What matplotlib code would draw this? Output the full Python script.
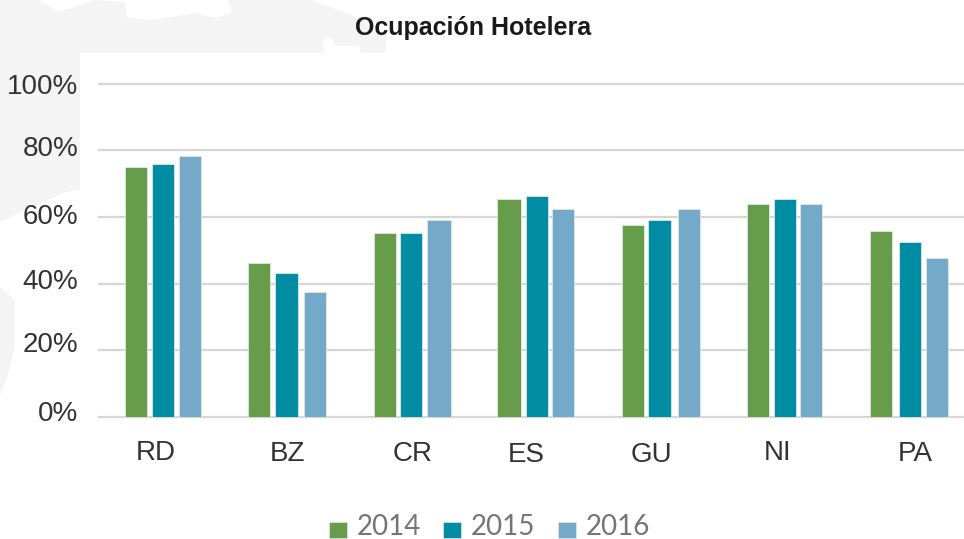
import matplotlib
matplotlib.use("Agg")
import matplotlib.pyplot as plt
from matplotlib.patches import Polygon, Rectangle

W, H = 964, 539

paises = ["RD", "BZ", "CR", "ES", "GU", "NI", "PA"]
anios = ["2014", "2015", "2016"]
v2014 = [75.0, 46.2, 55.2, 65.3, 57.6, 63.9, 55.8]
v2015 = [75.9, 43.2, 55.2, 66.3, 59.1, 65.3, 52.5]
v2016 = [78.3, 37.5, 59.1, 62.3, 62.3, 63.9, 47.7]
yticks = [0, 20, 40, 60, 80, 100]

colores = ["#669c4a", "#008ca3", "#74a9ca"]
gris_mapa = "#f4f4f4"

# posiciones en pixeles de la imagen original (el eje x va en pixeles)
centros_2014 = [136, 259, 384.5, 508.5, 633, 758, 881]
centros_2015 = [163, 286.5, 411, 537, 659.5, 784.5, 910]
centros_2016 = [189.5, 315, 439, 563, 688.5, 811, 937]
anchos_2014 = [22, 22, 22, 24, 22, 22, 22]
anchos_2015 = [22, 23, 22, 22, 23, 22, 22]
anchos_2016 = [22, 22, 24, 22, 22, 22, 22]
centros_label = [156, 288, 413, 526, 651, 778, 915]
y_label = [453, 454, 454, 455, 455, 453, 454]

plt.rcParams["font.family"] = ["Liberation Sans", "DejaVu Sans"]

fig = plt.figure(figsize=(W / 100, H / 100), dpi=100)

# fondo: mapa gris claro
fondo = fig.add_axes([0, 0, 1, 1], zorder=0)
fondo.set_xlim(0, W)
fondo.set_ylim(H, 0)
fondo.axis("off")
mapa = [(0, 0), (40, 0), (58, 12), (95, 0), (125, 2), (127, 17), (150, 20), (195, 13), (215, 18), (232, 13), (228, 0),
        (310, 0), (350, 14), (387, 38), (385, 53), (362, 53), (358, 46), (335, 46), (332, 38), (325, 38), (323, 45),
        (324, 53), (80, 53), (80, 190), (65, 192), (0, 222)]
fondo.add_patch(Polygon(mapa, closed=True, fc=gris_mapa, ec="none"))
mapa2 = [(0, 287), (15, 300), (15, 345), (8, 375), (0, 395)]
fondo.add_patch(Polygon(mapa2, closed=True, fc=gris_mapa, ec="none"))
fondo.add_patch(Rectangle((80, 53), W - 80, H - 53, fc="white", ec="none"))

# eje principal: 0% en y=417 y 100% en y=83.5
ax = fig.add_axes([99 / W, 1 - 417 / H, (W - 99) / W, (417 - 83.5) / H], zorder=1)
ax.patch.set_alpha(0)
ax.set_xlim(99, W)
ax.set_ylim(0, 100)
for s in ax.spines.values():
    s.set_visible(False)

ax.set_yticks(yticks)
ax.set_yticklabels([])
ax.tick_params(length=0)
ax.set_xticks([])
ax.grid(axis="y", color="#d6d6d6", linewidth=1.6, clip_on=False)
ax.set_axisbelow(True)

series = zip([centros_2014, centros_2015, centros_2016], [v2014, v2015, v2016],
             [anchos_2014, anchos_2015, anchos_2016], colores, anios)
for centros, vals, anchos, c, nom in series:
    ax.bar(centros, vals, width=anchos, color=c, label=nom, edgecolor="#dceae6", linewidth=0.6)

# textos de ejes
for v, y_px in zip(yticks, [414, 345, 282, 217, 149, 87]):
    fondo.text(78, y_px, f"{v}%", ha="right", va="center", fontsize=20, color="#333333", zorder=5)
for p, x_px, y_px in zip(paises, centros_label, y_label):
    fondo.text(x_px, y_px, p, ha="center", va="center", fontsize=20, color="#333333", zorder=5)

fondo.text(473, 28, "Ocupación Hotelera", ha="center", va="center", fontsize=18, fontweight="bold", color="#1a1a1a")

# leyenda a mano para fijar el sitio
for nom, c, x_cuad, x_txt in zip(anios, colores, [329, 443, 558], [357, 471, 586]):
    fondo.add_patch(Rectangle((x_cuad, 522), 18, 16, fc=c, ec="#dceae6", lw=0.5))
    fondo.text(x_txt, 527, nom, ha="left", va="center", fontsize=20, color="#757575", family=["Lato", "DejaVu Sans"])

fig.savefig("out.png", dpi=100)
